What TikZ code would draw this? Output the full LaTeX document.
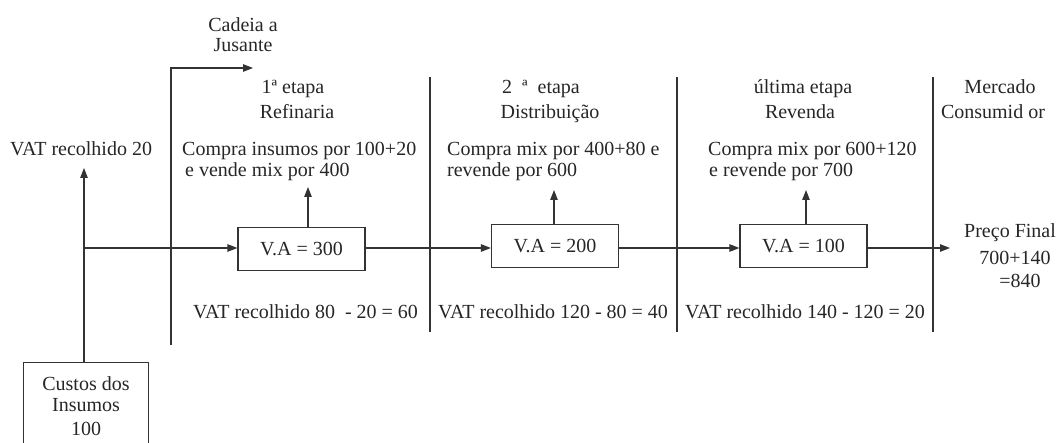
\documentclass[tikz,border=0pt]{standalone}
\usepackage{fontspec}
\setmainfont{Liberation Serif}
\usetikzlibrary{arrows.meta}
\begin{document}
\begin{tikzpicture}[x=1pt,y=-1pt,
  txt/.style={inner sep=0pt, anchor=base, font=\fontsize{20}{21}\selectfont, text=black!85},
  txtl/.style={txt, anchor=base west},
  box/.style={draw=black!80, line width=1.2pt, minimum width=127pt, minimum height=43pt, inner sep=0pt, font=\fontsize{20}{21}\selectfont, text=black!85},
  ln/.style={draw=black!80, line width=1.2pt},
  arr/.style={ln, -{Triangle[length=10pt,width=7.5pt]}}]
\useasboundingbox (0,0) rectangle (1057,443);
\clip (0,0) rectangle (1057,443);

% boxes
\node[box] (b1) at (301.5,249) {V.A = 300};
\node[box] (b2) at (555,246) {V.A = 200};
\node[box] (b3) at (803.5,246) {V.A = 100};
\node[draw=black!80, line width=1.2pt, minimum width=125pt, inner xsep=0pt, inner ysep=14pt,
      anchor=north, align=center, font=\fontsize{20}{21}\selectfont, text=black!85]
      (custos) at (86,362) {Custos dos\\Insumos\\[3pt]100};

% coordinates
\coordinate (j) at (84,248);
\coordinate (vat0) at (84,168);
\coordinate (pf) at (950,248);
\coordinate (jb) at (171,345);
\coordinate (jt) at (171,68);
\coordinate (je) at (253,68);
\coordinate (u1) at (308,187);
\coordinate (u2) at (554,190);
\coordinate (u3) at (806,190);
\coordinate (d1t) at (430,77);  \coordinate (d1b) at (430,332);
\coordinate (d2t) at (677,77);  \coordinate (d2b) at (677,332);
\coordinate (d3t) at (933,77);  \coordinate (d3b) at (933,332);

% connectors
\draw[arr] (custos.north -| j) -- (vat0);
\draw[arr] (j) -- (j -| b1.west);
\draw[arr] (b1.east |- j) -- (b2.west |- j);
\draw[arr] (b2.east |- j) -- (b3.west |- j);
\draw[arr] (b3.east |- j) -- (pf);
\draw[arr] (jb) -- (jt) -- (je);
\draw[arr] (b1.north -| u1) -- (u1);
\draw[arr] (b2.north -| u2) -- (u2);
\draw[arr] (b3.north -| u3) -- (u3);
\draw[ln] (d1t) -- (d1b);
\draw[ln] (d2t) -- (d2b);
\draw[ln] (d3t) -- (d3b);

% texts
\node[txt] (cad1) at (243,32) {Cadeia a};
\node[txt] (cad2) at (243,52) {Jusante};
\node[txt] (e1a) at (293,94) {1ª etapa};
\node[txt] (e1b) at (297,119) {Refinaria};
\node[txt] (e2a) at (541,94) {2 \ ª \ etapa};
\node[txt] (e2b) at (550,119) {Distribuição};
\node[txt] (e3a) at (803,94) {última etapa};
\node[txt] (e3b) at (800,119) {Revenda};
\node[txt] (e4a) at (1000,94) {Mercado};
\node[txt] (e4b) at (993,119) {Consumid or};

\node[txtl] (c1a) at (182,156) {Compra insumos por 100+20};
\node[txtl] (c1b) at (185,177) {e vende mix por 400};
\node[txtl] (c2a) at (447,156) {Compra mix por 400+80 e};
\node[txtl] (c2b) at (447,177) {revende por 600};
\node[txtl] (c3a) at (708,156) {Compra mix por 600+120};
\node[txtl] (c3b) at (709,177) {e revende por 700};

\node[txtl] (vat20) at (10,156) {VAT recolhido 20};
\node[txtl] (v1) at (193,319) {VAT recolhido 80 \ - 20 = 60};
\node[txtl] (v2) at (438,319) {VAT recolhido 120 - 80 = 40};
\node[txtl] (v3) at (685,319) {VAT recolhido 140 - 120 = 20};

\node[txtl] (pf1) at (964,238) {Preço Final};
\node[txt] (pf2) at (1015,265) {700+140};
\node[txt] (pf3) at (1020,288) {=840};
\end{tikzpicture}
\end{document}
